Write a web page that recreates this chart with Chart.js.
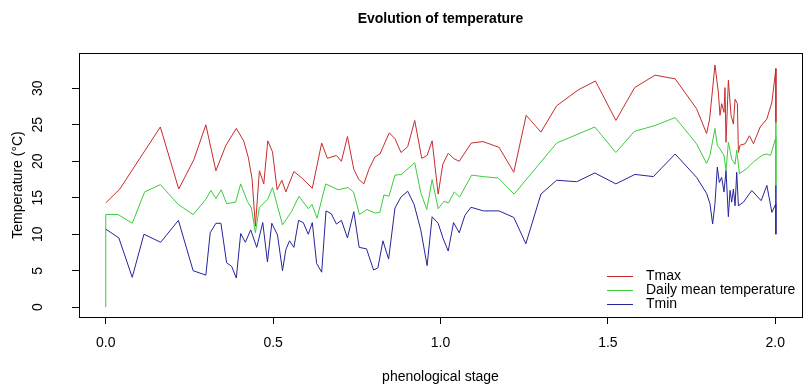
<!DOCTYPE html>
<html>
<head>
<meta charset="utf-8">
<script src="https://cdn.jsdelivr.net/npm/chart.js@4.4.1/dist/chart.umd.min.js"></script>
<style>
  body { margin: 0; background: #fff; }
  #wrap { width: 807px; height: 392px; }
</style>
</head>
<body>
<div id="wrap"><canvas id="tempChart" width="807" height="392"></canvas></div>
<script>
// phenological stage (x) and temperatures (y)
const tmaxStage = [0, 0.042, 0.163, 0.218, 0.263, 0.299, 0.329, 0.359, 0.390, 0.412,
  0.426, 0.437, 0.447, 0.459, 0.472, 0.484, 0.498, 0.512, 0.526, 0.538,
  0.562, 0.586, 0.617, 0.645, 0.662, 0.689, 0.704, 0.722, 0.741, 0.756,
  0.771, 0.786, 0.804, 0.819, 0.847, 0.864, 0.882, 0.902, 0.923, 0.944,
  0.960, 0.975, 0.993, 1.007, 1.023, 1.039, 1.056, 1.092, 1.127, 1.175,
  1.219, 1.256, 1.300, 1.347, 1.412, 1.463, 1.524, 1.580, 1.641, 1.701,
  1.765, 1.795, 1.804, 1.820, 1.830, 1.835, 1.840, 1.847, 1.850, 1.853,
  1.860, 1.868, 1.875, 1.880, 1.887, 1.890, 1.895, 1.910, 1.923, 1.935,
  1.955, 1.975, 1.990, 2.002, 2.002];
const tmaxValues = [14.3, 16.2, 24.7, 16.2, 20.2, 25.0, 18.7, 22.2, 24.5, 22.8,
  20.5, 17.6, 11.1, 18.7, 16.9, 22.8, 21.3, 16.1, 17.4, 15.8,
  18.6, 17.7, 16.3, 22.5, 20.4, 20.8, 20.0, 23.4, 18.9, 17.5,
  16.9, 18.9, 20.6, 21.0, 23.9, 23.1, 21.2, 22.0, 25.6, 20.4,
  20.8, 22.8, 15.5, 19.6, 21.1, 20.4, 20.0, 22.5, 22.7, 21.9,
  18.5, 26.3, 24.0, 27.6, 29.8, 31.0, 25.6, 30.1, 31.8, 31.3,
  27.2, 23.8, 25.8, 33.2, 29.5, 26.3, 27.9, 26.7, 30.1, 22.6,
  31.1, 26.3, 25.1, 28.5, 27.9, 21.2, 22.2, 22.4, 23.5, 22.4,
  24.7, 25.8, 28.1, 32.7, 25.3];

const meanStage = [0, 0, 0.037, 0.079, 0.116, 0.163, 0.216, 0.261, 0.299, 0.314,
  0.329, 0.345, 0.361, 0.388, 0.403, 0.423, 0.435, 0.447, 0.459, 0.484,
  0.498, 0.528, 0.555, 0.577, 0.605, 0.616, 0.631, 0.657, 0.694, 0.724,
  0.740, 0.758, 0.780, 0.805, 0.819, 0.831, 0.846, 0.864, 0.883, 0.923,
  0.941, 0.959, 0.975, 0.993, 1.010, 1.024, 1.041, 1.057, 1.093, 1.128,
  1.173, 1.220, 1.347, 1.461, 1.524, 1.579, 1.641, 1.701, 1.765, 1.795,
  1.805, 1.820, 1.827, 1.835, 1.847, 1.853, 1.860, 1.870, 1.880, 1.885,
  1.893, 1.915, 1.935, 1.960, 1.975, 1.986, 2.002, 2.002, 2.002];
const meanValues = [0, 12.7, 12.7, 11.5, 15.8, 16.8, 14.1, 12.7, 14.8, 16.0,
  14.9, 16.1, 14.2, 14.4, 16.9, 14.5, 13.6, 10.2, 13.7, 14.8,
  16.4, 11.3, 13.1, 15.2, 13.5, 14.1, 12.2, 16.9, 16.1, 16.4,
  15.8, 12.7, 13.4, 12.9, 13.0, 15.4, 15.2, 18.1, 18.2, 19.8,
  15.7, 13.4, 17.5, 13.5, 14.5, 14.3, 15.8, 15.1, 18.1, 17.9,
  17.7, 15.5, 22.5, 24.7, 21.2, 24.1, 24.9, 26.0, 22.4, 19.7,
  20.8, 24.5, 22.2, 21.7, 20.8, 18.7, 22.6, 20.3, 19.6, 21.5,
  18.3, 19.0, 19.9, 20.8, 21.0, 20.8, 23.3, 25.3, 16.7];

const tminStage = [0, 0.039, 0.079, 0.114, 0.164, 0.217, 0.261, 0.299, 0.312, 0.329,
  0.344, 0.361, 0.376, 0.390, 0.403, 0.417, 0.433, 0.451, 0.469, 0.483,
  0.496, 0.513, 0.528, 0.538, 0.549, 0.562, 0.576, 0.590, 0.605, 0.617,
  0.630, 0.645, 0.658, 0.674, 0.689, 0.704, 0.722, 0.741, 0.757, 0.779,
  0.800, 0.813, 0.828, 0.845, 0.864, 0.882, 0.902, 0.921, 0.941, 0.960,
  0.975, 0.993, 1.008, 1.023, 1.039, 1.056, 1.073, 1.091, 1.128, 1.175,
  1.219, 1.255, 1.300, 1.347, 1.407, 1.461, 1.524, 1.581, 1.636, 1.701,
  1.765, 1.795, 1.805, 1.813, 1.820, 1.827, 1.833, 1.840, 1.847, 1.853,
  1.860, 1.865, 1.870, 1.875, 1.880, 1.885, 1.890, 1.905, 1.930, 1.958,
  1.975, 1.990, 2.002, 2.002, 2.002];
const tminValues = [10.7, 9.5, 4.1, 10.0, 8.9, 11.9, 5.0, 4.4, 10.2, 11.5,
  11.5, 6.1, 5.6, 4.0, 10.1, 8.9, 10.6, 8.2, 11.6, 6.2,
  11.5, 9.9, 5.0, 7.9, 9.1, 8.2, 11.9, 11.6, 10.0, 11.6,
  6.0, 4.8, 13.2, 12.8, 11.4, 11.9, 9.5, 13.1, 8.2, 8.0,
  5.1, 5.4, 9.1, 6.6, 13.6, 15.1, 15.9, 14.1, 10.6, 5.7,
  12.4, 11.5, 9.4, 7.7, 11.6, 10.2, 12.6, 13.7, 13.2, 13.2,
  12.3, 8.7, 15.5, 17.4, 17.2, 18.4, 16.9, 18.2, 17.9, 21.0,
  17.8, 15.6, 14.2, 11.4, 14.2, 19.2, 17.1, 17.8, 15.8, 18.7,
  12.4, 16.0, 14.4, 16.2, 13.9, 18.5, 13.9, 14.4, 16.0, 14.6,
  16.7, 13.0, 14.2, 16.7, 10.0];

const seriesNames = ["Tmax", "Daily mean temperature", "Tmin"];
const xTicks = [0, 0.5, 1, 1.5, 2];
const yTicks = [0, 5, 10, 15, 20, 25, 30];

const colors = ["#c82c2c", "#3ccc3c", "#24249a"];
const FONT = "'Liberation Sans', Arial, sans-serif";

// turn two arrays into {x, y} points
function toPoints(xs, ys) {
  return xs.map((x, i) => ({ x: x, y: ys[i] }));
}

// box round the plot, like R's box()
const boxPlugin = {
  id: "plotBox",
  afterDraw(chart) {
    const a = chart.chartArea;
    const ctx = chart.ctx;
    ctx.save();
    ctx.strokeStyle = "#000";
    ctx.lineWidth = 1;
    ctx.strokeRect(Math.round(a.left) + 0.5, Math.round(a.top) + 0.5,
      Math.round(a.right - a.left), Math.round(a.bottom - a.top));
    ctx.restore();
  }
};

// main title, centred on the plot area
const titlePlugin = {
  id: "rTitle",
  afterDraw(chart) {
    const a = chart.chartArea;
    const ctx = chart.ctx;
    ctx.save();
    ctx.font = "bold 14px " + FONT;
    ctx.fillStyle = "#000";
    ctx.textAlign = "center";
    ctx.textBaseline = "middle";
    ctx.fillText("Evolution of temperature", (a.left + a.right) / 2, 19);
    ctx.restore();
  }
};

// legend at bottom right, no frame
const legendPlugin = {
  id: "rLegend",
  afterDraw(chart) {
    const a = chart.chartArea;
    const ctx = chart.ctx;
    ctx.save();
    ctx.font = "14px " + FONT;
    ctx.textBaseline = "middle";
    ctx.textAlign = "left";
    chart.data.datasets.forEach((ds, i) => {
      const y = a.bottom - 41 + i * 14;
      ctx.strokeStyle = ds.borderColor;
      ctx.lineWidth = 1;
      ctx.beginPath();
      ctx.moveTo(a.right - 195, y + 0.5);
      ctx.lineTo(a.right - 169, y + 0.5);
      ctx.stroke();
      ctx.fillStyle = "#000";
      ctx.fillText(ds.label, a.right - 156, y);
    });
    ctx.restore();
  }
};

const ctx = document.getElementById("tempChart").getContext("2d");
const tempChart = new Chart(ctx, {
  type: "scatter",
  data: {
    datasets: [
      { label: seriesNames[0], data: toPoints(tmaxStage, tmaxValues), borderColor: colors[0], order: 3 },
      { label: seriesNames[1], data: toPoints(meanStage, meanValues), borderColor: colors[1], order: 2 },
      { label: seriesNames[2], data: toPoints(tminStage, tminValues), borderColor: colors[2], order: 1 }
    ]
  },
  options: {
    responsive: false,
    animation: false,
    layout: { padding: { top: 53, right: 5, left: 0, bottom: 0 } },
    datasets: {
      scatter: { showLine: true, pointRadius: 0, borderWidth: 1, tension: 0, backgroundColor: "transparent" }
    },
    plugins: {
      legend: { display: false },
      title: { display: false },
      tooltip: { enabled: false }
    },
    scales: {
      x: {
        type: "linear",
        min: -0.08,
        max: 2.08,
        afterBuildTicks: (scale) => { scale.ticks = xTicks.map(v => ({ value: v })); },
        afterFit: (scale) => { scale.height = 75; },
        grid: { display: true, drawOnChartArea: false, drawTicks: true, tickLength: 7, tickColor: "#000" },
        border: { display: true, color: "#000" },
        ticks: {
          color: "#000",
          padding: 11,
          maxRotation: 0,
          font: { family: FONT, size: 14 },
          callback: (v) => Number(v).toFixed(1)
        },
        title: {
          display: true,
          text: "phenological stage",
          color: "#000",
          font: { family: FONT, size: 14 },
          padding: { top: 0, bottom: 6 }
        }
      },
      y: {
        type: "linear",
        min: -1.34,
        max: 34.84,
        afterBuildTicks: (scale) => { scale.ticks = yTicks.map(v => ({ value: v })); },
        afterFit: (scale) => { scale.width = 79; },
        grid: { display: true, drawOnChartArea: false, drawTicks: true, tickLength: 7, tickColor: "#000" },
        border: { display: true, color: "#000" },
        ticks: {
          color: "#000",
          padding: 26,
          minRotation: 90,
          maxRotation: 90,
          crossAlign: "center",
          font: { family: FONT, size: 14 },
          callback: (v) => String(v)
        },
        title: {
          display: true,
          text: "Temperature (°C)",
          color: "#000",
          font: { family: FONT, size: 14 },
          padding: { top: 10, bottom: 0 }
        }
      }
    }
  },
  plugins: [boxPlugin, titlePlugin, legendPlugin]
});
</script>
</body>
</html>
